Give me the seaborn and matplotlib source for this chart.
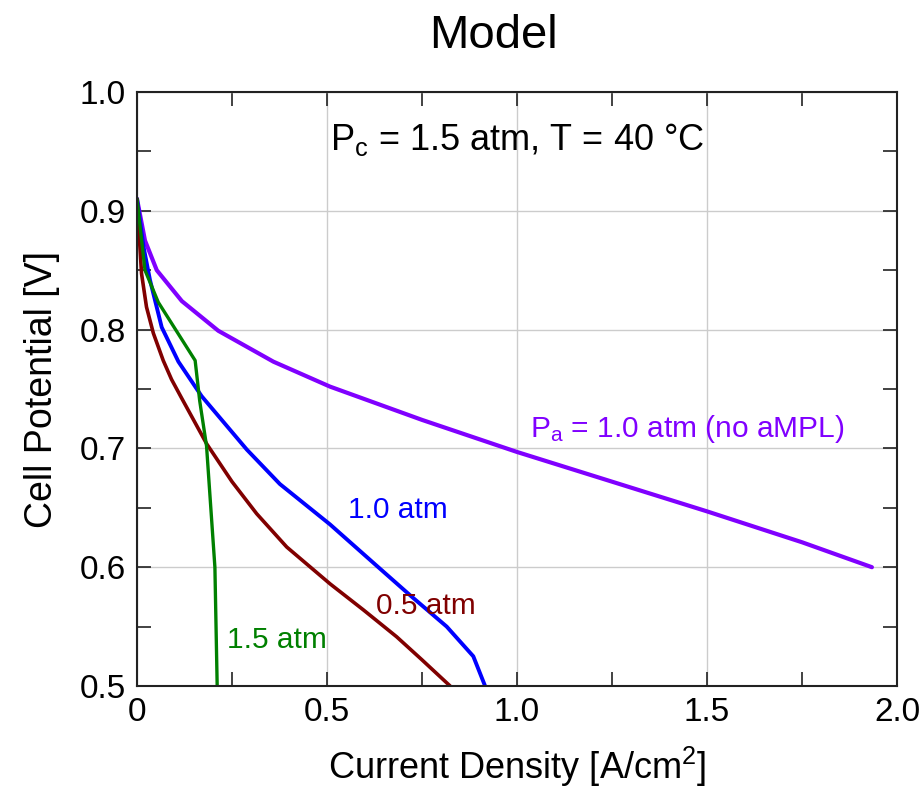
import matplotlib
matplotlib.use("Agg")
import matplotlib.pyplot as plt
import seaborn as sns
import pandas as pd
from matplotlib.ticker import MultipleLocator, FixedLocator, FixedFormatter

# ---- data ----
no_ampl_j = [0.0, 0.021, 0.052, 0.118, 0.214, 0.359, 0.508, 0.75, 1.0, 1.25, 1.5, 1.75, 1.934]
no_ampl_v = [0.910, 0.875, 0.850, 0.824, 0.799, 0.773, 0.752, 0.724, 0.697, 0.672, 0.647, 0.621, 0.600]

a10_j = [0.0, 0.017, 0.034, 0.065, 0.109, 0.170, 0.289, 0.376, 0.508, 0.635, 0.72, 0.815, 0.885, 0.916]
a10_v = [0.910, 0.870, 0.842, 0.802, 0.773, 0.744, 0.699, 0.670, 0.636, 0.600, 0.576, 0.550, 0.525, 0.500]

a05_j = [0.0, 0.012, 0.025, 0.043, 0.069, 0.091, 0.118, 0.183, 0.25, 0.315, 0.394, 0.508, 0.596, 0.683, 0.75, 0.824]
a05_v = [0.910, 0.847, 0.819, 0.797, 0.774, 0.758, 0.742, 0.704, 0.672, 0.645, 0.617, 0.586, 0.564, 0.5415, 0.522, 0.500]

a15_j = [0.0, 0.021, 0.056, 0.153, 0.165, 0.183, 0.205, 0.211]
a15_v = [0.910, 0.850, 0.823, 0.774, 0.740, 0.702, 0.600, 0.500]

series_names = ["no aMPL", "1.0 atm", "0.5 atm", "1.5 atm"]
series_colors = ["#8000FF", "#0000FF", "#800000", "#008000"]
series_widths = [3.0, 2.8, 2.6, 2.4]

x_ticks = [0, 0.5, 1.0, 1.5, 2.0]
x_tick_labels = ["0", "0.5", "1.0", "1.5", "2.0"]
y_ticks = [0.5, 0.6, 0.7, 0.8, 0.9, 1.0]
y_tick_labels = ["0.5", "0.6", "0.7", "0.8", "0.9", "1.0"]

frames = []
for name, j, v in zip(series_names, [no_ampl_j, a10_j, a05_j, a15_j],
                      [no_ampl_v, a10_v, a05_v, a15_v]):
    frames.append(pd.DataFrame({"j": j, "v": v, "series": name}))
df = pd.concat(frames, ignore_index=True)

sns.set_style("ticks")
plt.rcParams["font.family"] = ["Liberation Sans", "DejaVu Sans"]
plt.rcParams["mathtext.fontset"] = "custom"
plt.rcParams["mathtext.rm"] = "Liberation Sans"
plt.rcParams["mathtext.it"] = "Liberation Sans"
plt.rcParams["text.color"] = "black"
plt.rcParams["axes.labelcolor"] = "black"
plt.rcParams["xtick.color"] = "black"
plt.rcParams["ytick.color"] = "black"

fig = plt.figure(figsize=(9.22, 7.9), dpi=100)
ax = fig.add_axes([137 / 922, 1 - 686 / 790, 760 / 922, 594 / 790])

for name, c, lw in zip(series_names, series_colors, series_widths):
    sub = df[df["series"] == name]
    sns.lineplot(data=sub, x="j", y="v", sort=False, estimator=None,
                 color=c, lw=lw, ax=ax, legend=False)

ax.set_xlim(0, 2.0)
ax.set_ylim(0.5, 1.0)
ax.xaxis.set_major_locator(FixedLocator(x_ticks))
ax.xaxis.set_major_formatter(FixedFormatter(x_tick_labels))
ax.yaxis.set_major_locator(FixedLocator(y_ticks))
ax.yaxis.set_major_formatter(FixedFormatter(y_tick_labels))
ax.xaxis.set_minor_locator(MultipleLocator(0.25))
ax.yaxis.set_minor_locator(MultipleLocator(0.05))
ax.tick_params(which="both", direction="in", top=True, right=True,
               length=10, width=1.2, color="#222222")
ax.tick_params(which="major", labelsize=24, pad=8)
ax.grid(True, which="major", color="#cccccc", lw=1.0)
ax.set_axisbelow(True)
for s in ax.spines.values():
    s.set_linewidth(1.5)
    s.set_color("#222222")

ax.set_xlabel("Current Density [A/cm$^2$]", fontsize=26, labelpad=12)
ax.set_ylabel("Cell Potential [V]", fontsize=27, labelpad=14)

fig.text(493 / 922, 1 - 48 / 790, "Model", fontsize=34, ha="center",
         va="baseline")

ax.text(0.508, 0.951, r"P$_\mathrm{c}$ = 1.5 atm, T = 40 °C", fontsize=26,
        va="baseline", ha="left")
ax.text(1.034, 0.7096, r"P$_\mathrm{a}$ = 1.0 atm (no aMPL)", fontsize=21.5,
        color=series_colors[0], va="baseline", ha="left")
ax.text(0.555, 0.641, "1.0 atm", fontsize=21.5, color=series_colors[1],
        va="baseline", ha="left")
ax.text(0.629, 0.561, "0.5 atm", fontsize=21.5, color=series_colors[2],
        va="baseline", ha="left")
ax.text(0.237, 0.532, "1.5 atm", fontsize=21.5, color=series_colors[3],
        va="baseline", ha="left")

fig.savefig("out.png", dpi=100)
